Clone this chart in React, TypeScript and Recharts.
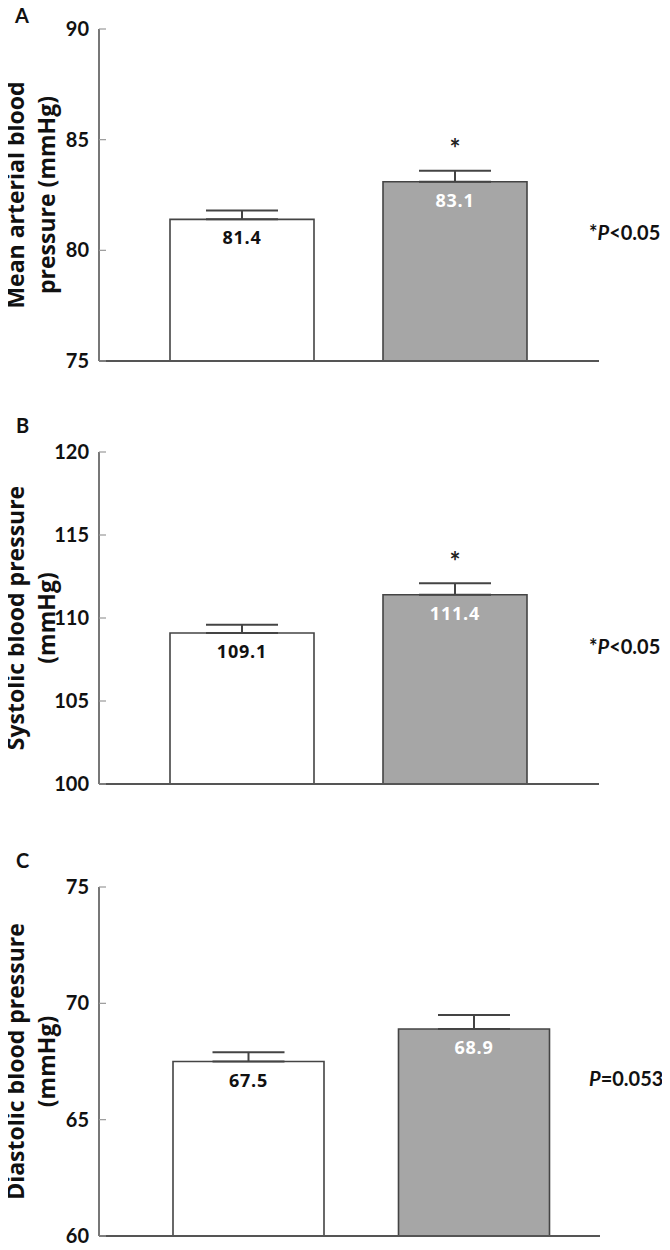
import { BarChart, Bar, XAxis, YAxis, ErrorBar, Cell, LabelList } from "recharts";

const FONT = "Lato, 'Open Sans', sans-serif";
const LABEL_FONT = "'Open Sans', Lato, sans-serif";

// two groups, no x labels shown in the figure
const groups = ["Group 1", "Group 2"];

const meanArterial = [81.4, 83.1];
const meanArterialErr = [0.4, 0.5];
const systolic = [109.1, 111.4];
const systolicErr = [0.5, 0.7];
const diastolic = [67.5, 68.9];
const diastolicErr = [0.4, 0.6];

const sigMarks = ["", "*"];
const noMarks = ["", ""];

const ticksA = [75, 80, 85, 90];
const ticksB = [100, 105, 110, 115, 120];
const ticksC = [60, 65, 70, 75];

const FILLS = ["#ffffff", "#a6a6a6"];
const LABEL_COLORS = ["#111111", "#ffffff"];

const buildRows = (values: number[], errs: number[], marks: string[]) =>
  groups.map((g, i) => ({ group: g, value: values[i], err: [0, errs[i]], sig: marks[i] }));

const renderValue = (props: any) => {
  const vb = props.viewBox || props;
  const idx = props.index ?? 0;
  return (
    <text
      x={vb.x + vb.width / 2}
      y={vb.y + 25}
      textAnchor="middle"
      fill={LABEL_COLORS[idx]}
      fontSize={18}
      fontWeight={700}
      letterSpacing={0.8}
      fontFamily={LABEL_FONT}
    >
      {props.value}
    </text>
  );
};

const renderSig = (props: any) => {
  if (!props.value) return null;
  const vb = props.viewBox || props;
  return (
    <text
      x={vb.x + vb.width / 2}
      y={vb.y - 24}
      textAnchor="middle"
      fill="#222"
      fontSize={26}
      fontWeight={700}
      fontFamily={FONT}
    >
      {props.value}
    </text>
  );
};

const axisLabel = (lines: string[]) => (props: any) => {
  const vb = props.viewBox;
  const cy = vb.y + vb.height / 2;
  const xs = [15, 46];
  return (
    <g>
      {lines.map((l, i) => (
        <text
          key={i}
          transform={`translate(${xs[i]}, ${cy}) rotate(-90)`}
          textAnchor="middle"
          dominantBaseline="central"
          fill="#111"
          fontSize={23}
          fontWeight={700}
          fontFamily={LABEL_FONT}
        >
          {l}
        </text>
      ))}
    </g>
  );
};

interface PanelProps {
  top: number;
  height: number;
  plotTop: number;
  plotBottom: number;
  right: number;
  rows: any[];
  ticks: number[];
  labelLines: string[];
  padLeft: number;
  padRight: number;
  barSize: number;
}

const X_AXIS_H = 20;

function Panel(p: PanelProps) {
  return (
    <div style={{ position: "absolute", left: 0, top: p.top }}>
      <BarChart
        width={670}
        height={p.height}
        data={p.rows}
        margin={{ top: p.plotTop, bottom: p.plotBottom - X_AXIS_H, left: 0, right: p.right }}
        barSize={p.barSize}
      >
        <XAxis
          dataKey="group"
          height={X_AXIS_H}
          tick={false}
          tickLine={false}
          axisLine={{ stroke: "#555", strokeWidth: 1.8 }}
          padding={{ left: p.padLeft, right: p.padRight }}
        />
        <YAxis
          width={99}
          domain={[p.ticks[0], p.ticks[p.ticks.length - 1]]}
          ticks={p.ticks}
          interval={0}
          tickSize={-7}
          tickMargin={17}
          axisLine={{ stroke: "#555", strokeWidth: 1.6 }}
          tickLine={{ stroke: "#999", strokeWidth: 1.2 }}
          tick={{ fill: "#111", fontSize: 20, fontWeight: 700, fontFamily: FONT }}
          label={axisLabel(p.labelLines)}
        />
        <Bar dataKey="value" stroke="#444" strokeWidth={1.6} isAnimationActive={false}>
          {p.rows.map((_, i) => (
            <Cell key={`cell-${i}`} fill={FILLS[i]} />
          ))}
          <ErrorBar dataKey="err" width={36} stroke="#444" strokeWidth={2} direction="y" />
          <LabelList dataKey="value" content={renderValue} />
          <LabelList dataKey="sig" content={renderSig} />
        </Bar>
      </BarChart>
    </div>
  );
}

export default function App() {
  const txt = { fontFamily: FONT, fontWeight: 700, fill: "#111" } as const;
  return (
    <div style={{ position: "relative", width: 670, height: 1250, margin: "-8px 0 0 -8px", background: "#fff" }}>
      <Panel
        top={0}
        height={400}
        plotTop={29}
        plotBottom={39}
        right={71}
        rows={buildRows(meanArterial, meanArterialErr, sigMarks)}
        ticks={ticksA}
        labelLines={["Mean arterial blood", "pressure (mmHg)"]}
        padLeft={36}
        padRight={38}
        barSize={144}
      />
      <Panel
        top={400}
        height={420}
        plotTop={52}
        plotBottom={36}
        right={71}
        rows={buildRows(systolic, systolicErr, sigMarks)}
        ticks={ticksB}
        labelLines={["Systolic blood pressure", "(mmHg)"]}
        padLeft={36}
        padRight={38}
        barSize={144}
      />
      <Panel
        top={820}
        height={430}
        plotTop={67}
        plotBottom={14}
        right={70}
        rows={buildRows(diastolic, diastolicErr, noMarks)}
        ticks={ticksC}
        labelLines={["Diastolic blood pressure", "(mmHg)"]}
        padLeft={37}
        padRight={13}
        barSize={151}
      />
      {/* panel letters and p-values */}
      <svg width={670} height={1250} style={{ position: "absolute", left: 0, top: 0, pointerEvents: "none" }}>
        <text x={15} y={23} fontSize={20} {...txt}>A</text>
        <text x={16} y={433} fontSize={20} {...txt}>B</text>
        <text x={16} y={868} fontSize={20} {...txt}>C</text>
        <text x={589} y={240} fontSize={20} {...txt}>
          *<tspan fontStyle="italic">P</tspan>&lt;0.05
        </text>
        <text x={589} y={654} fontSize={20} {...txt}>
          *<tspan fontStyle="italic">P</tspan>&lt;0.05
        </text>
        <text x={589} y={1086} fontSize={20} {...txt}>
          <tspan fontStyle="italic">P</tspan>=0.053
        </text>
      </svg>
    </div>
  );
}
